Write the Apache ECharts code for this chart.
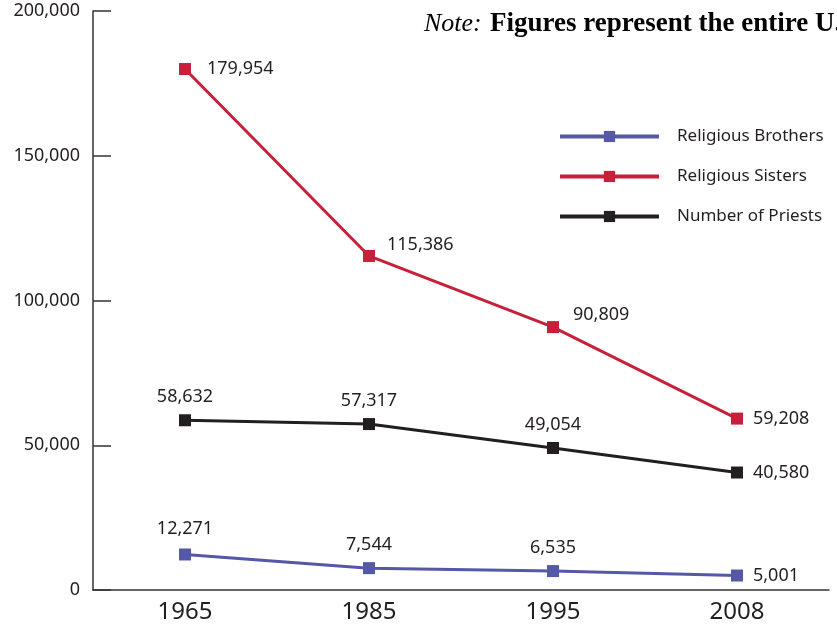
<!DOCTYPE html>
<html><head><meta charset="utf-8">
<script src="https://cdn.jsdelivr.net/npm/echarts@6/dist/echarts.min.js"></script>
<style>html,body{margin:0;padding:0;background:#fff}#c{width:837px;height:629px}</style>
</head><body><div id="c"></div>
<script>
const years = ['1965', '1985', '1995', '2008'];
const brothers = [12271, 7544, 6535, 5001];
const sisters = [179954, 115386, 90809, 59208];
const priests = [58632, 57317, 49054, 40580];
const yTicks = [0, 50000, 100000, 150000, 200000];

const fmt = v => v.toString().replace(/\B(?=(\d{3})+(?!\d))/g, ',');
const FONT = 'Noto Sans';

function withLabels(values, positions) {
  return values.map((v, i) => ({
    value: v,
    label: positions[i]
  }));
}
const lblBase = {show: true, fontFamily: FONT, fontSize: 18, color: '#231f20', formatter: p => fmt(p.value)};

const chart = echarts.init(document.getElementById('c'));
chart.setOption({
  animation: false,
  backgroundColor: '#fff',
  grid: {left: 93, right: 8, top: 11, bottom: 39},
  graphic: [{
    type: 'text', left: 424, top: 11,
    style: {
      text: '{i|Note:} {b|Figures represent the entire U.S.}',
      rich: {
        i: {fontFamily: 'Liberation Serif', fontStyle: 'italic', fontSize: 26, fill: '#000'},
        b: {fontFamily: 'Liberation Serif', fontWeight: 'bold', fontSize: 27, fill: '#000', padding: [0, 0, 0, 5]}
      }
    }
  }],
  legend: {
    orient: 'vertical', left: 553, top: 123,
    itemWidth: 99, itemHeight: 14, itemGap: 23,
    lineStyle: {width: 4},
    textStyle: {fontFamily: FONT, fontSize: 17, color: '#231f20', padding: [0, 0, 0, 13]},
    data: ['Religious Brothers', 'Religious Sisters', 'Number of Priests']
  },
  xAxis: {
    type: 'category', data: years, boundaryGap: true,
    axisLine: {lineStyle: {color: '#333', width: 1.5}},
    axisTick: {inside: true, length: 14, lineStyle: {color: '#333', width: 1.5}},
    axisLabel: {fontFamily: FONT, fontSize: 24, color: '#231f20', margin: 10}
  },
  yAxis: {
    type: 'value', min: yTicks[0], max: yTicks[yTicks.length - 1], interval: yTicks[1] - yTicks[0],
    axisLine: {show: true, lineStyle: {color: '#333', width: 1.5}},
    axisTick: {show: true, inside: true, length: 18, lineStyle: {color: '#333', width: 1.5}},
    splitLine: {show: false},
    axisLabel: {fontFamily: FONT, fontSize: 18, color: '#231f20', margin: 13, formatter: v => fmt(v)}
  },
  series: [
    {
      name: 'Religious Brothers', type: 'line', symbol: 'rect', symbolSize: 12,
      color: '#5558a6', lineStyle: {width: 3},
      label: lblBase,
      data: withLabels(brothers, [
        {position: 'top', distance: 8, offset: [0, -3]}, {position: 'top', distance: 8},
        {position: 'top', distance: 8}, {position: 'right', distance: 10}
      ])
    },
    {
      name: 'Religious Sisters', type: 'line', symbol: 'rect', symbolSize: 12,
      color: '#c8203a', lineStyle: {width: 3},
      label: lblBase,
      data: withLabels(sisters, [
        {position: 'right', distance: 16},
        {position: 'right', distance: 12, offset: [0, -11]},
        {position: 'right', distance: 14, offset: [0, -12]},
        {position: 'right', distance: 10}
      ])
    },
    {
      name: 'Number of Priests', type: 'line', symbol: 'rect', symbolSize: 12,
      color: '#231f20', lineStyle: {width: 3},
      label: lblBase,
      data: withLabels(priests, [
        {position: 'top', distance: 8}, {position: 'top', distance: 8},
        {position: 'top', distance: 8}, {position: 'right', distance: 10}
      ])
    }
  ]
});
</script></body></html>
